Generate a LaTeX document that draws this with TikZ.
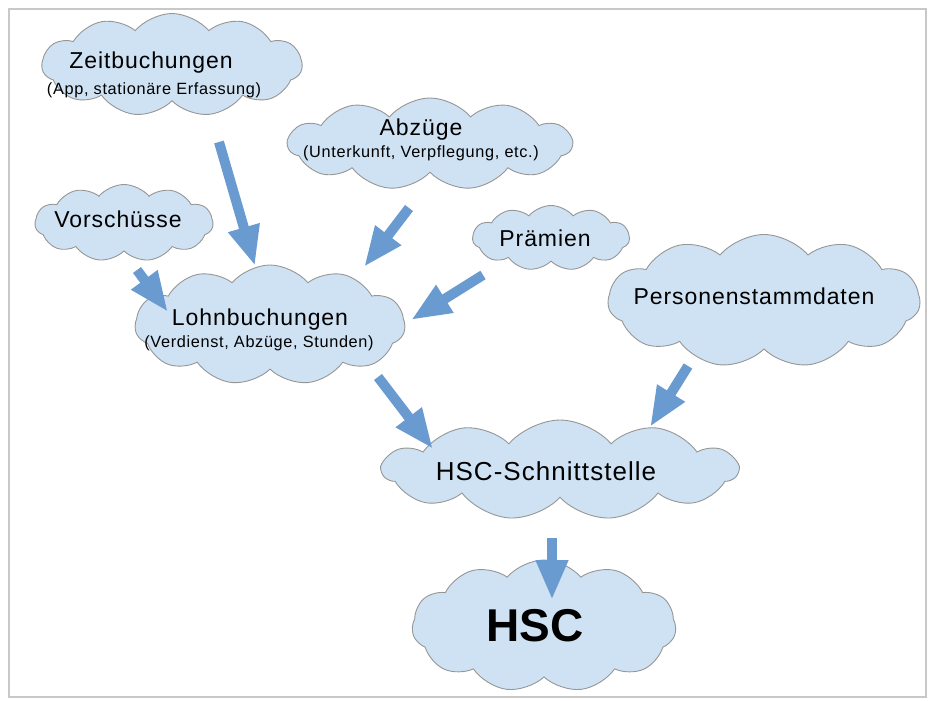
\documentclass[tikz,border=0pt]{standalone}
\usepackage{fontspec}
\setmainfont{Liberation Sans}[LetterSpace=4]
\usetikzlibrary{shapes.symbols,arrows.meta}
\definecolor{cloudfill}{RGB}{207,226,243}
\definecolor{cloudline}{RGB}{150,150,150}
\definecolor{arrowblue}{RGB}{106,155,208}
\definecolor{framegray}{RGB}{200,200,200}
\tikzset{
  wolke/.style={cloud, cloud puffs=11, cloud puff arc=100, cloud ignores aspect,
    fill=cloudfill, draw=cloudline, line width=0.9pt, inner sep=0pt},
  pfeil/.style={draw=arrowblue, line width=10pt,
    -{Triangle[length=40pt,width=30pt,fill=arrowblue]}},
  titel/.style={anchor=base, inner sep=0pt, font=\fontsize{23}{26}\selectfont},
  unter/.style={anchor=base, inner sep=0pt, font=\fontsize{16.3}{18}\selectfont},
}
\begin{document}
\begin{tikzpicture}[x=1pt,y=-1pt]
\useasboundingbox (0,0) rectangle (934,701);
\node[draw=framegray, line width=1.5pt, minimum width=917pt, minimum height=688pt, inner sep=0pt] (frame) at (467.5,353) {};

% clouds
\node[wolke, minimum width=260pt, minimum height=103pt] (zeit) at (172,65) {};
\node[wolke, minimum width=284pt, minimum height=92pt] (abz) at (430,144) {};
\node[wolke, minimum width=178pt, minimum height=77pt] (vor) at (124,223) {};
\node[wolke, minimum width=157pt, minimum height=65pt] (praem) at (551,238) {};
\node[wolke, minimum width=270pt, minimum height=120pt] (lohn) at (270,325) {};
\node[wolke, minimum width=312pt, minimum height=133pt] (pers) at (764,301) {};
\node[wolke, minimum width=355pt, minimum height=100pt] (schnitt) at (560,470) {};
\node[wolke, minimum width=264pt, minimum height=132pt] (hsc) at (544,626) {};

% texts
\node[titel] (zeitT) at (151,69) {Zeitbuchungen};
\node[unter] (zeitU) at (154,94) {(App, stationäre Erfassung)};
\node[titel] (abzT) at (421,135) {Abzüge};
\node[unter] (abzU) at (421,157) {(Unterkunft, Verpflegung, etc.)};
\node[titel] (vorT) at (118,227) {Vorschüsse};
\node[titel] (praemT) at (545,246) {Prämien};
\node[titel] (lohnT) at (260,325) {Lohnbuchungen};
\node[unter] (lohnU) at (259,347) {(Verdienst, Abzüge, Stunden)};
\node[titel] (persT) at (754,304) {Personenstammdaten};
\node[titel, font=\fontsize{26}{28}\selectfont] (schnittT) at (546,480) {HSC-Schnittstelle};
\node[titel, font=\fontsize{46}{50}\selectfont\bfseries\addfontfeature{LetterSpace=0}] (hscT) at (535,641) {HSC};

% arrows
\coordinate (a1s) at (219,142); \coordinate (a1e) at (255,266);
\coordinate (a2s) at (409,208); \coordinate (a2e) at (364,267);
\coordinate (a3s) at (137,270); \coordinate (a3e) at (168,312);
\coordinate (a4s) at (483,275); \coordinate (a4e) at (411,320);
\coordinate (a5s) at (378,377); \coordinate (a5e) at (433,449);
\coordinate (a6s) at (688,366); \coordinate (a6e) at (650,427);
\coordinate (a7s) at (552,538); \coordinate (a7e) at (552,600);

\draw[pfeil] (a1s) -- (a1e);
\draw[pfeil] (a2s) -- (a2e);
\draw[pfeil] (a3s) -- (a3e);
\draw[pfeil] (a4s) -- (a4e);
\draw[pfeil] (a5s) -- (a5e);
\draw[pfeil] (a6s) -- (a6e);
\draw[pfeil] (a7s) -- (a7e);
\end{tikzpicture}
\end{document}
